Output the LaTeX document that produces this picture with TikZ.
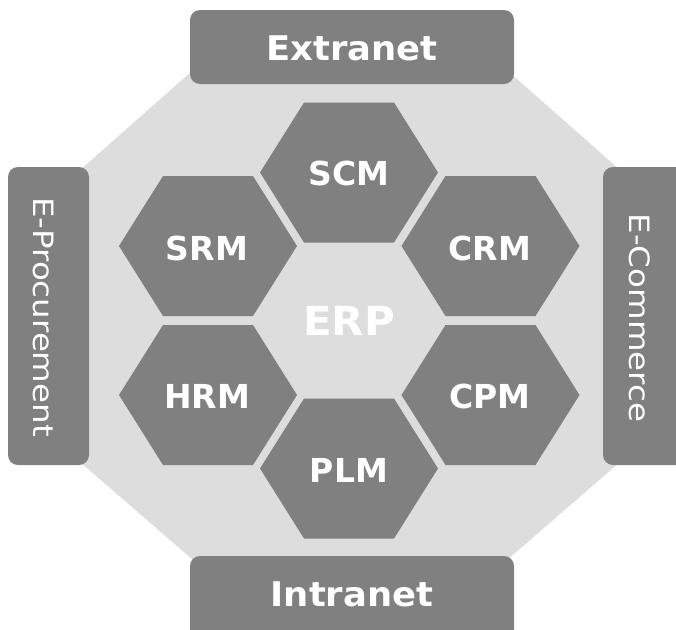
\documentclass[tikz,border=0pt]{standalone}
\usepackage{fontspec}
\setmainfont{DejaVu Sans}
\usepackage{graphicx}
\definecolor{bargray}{HTML}{808080}
\definecolor{bglight}{HTML}{DDDDDD}
\begin{document}
\begin{tikzpicture}[x=1pt,y=-1pt,
  barbox/.style={fill=bargray, rounded corners=10pt},
  hexfill/.style={fill=bargray},
  hexlabel/.style={text=white, font=\fontsize{33}{36}\selectfont\bfseries, inner sep=0pt},
  barlabel/.style={text=white, font=\fontsize{34}{38}\selectfont\bfseries, inner sep=0pt},
  sidelabel/.style={text=white, font=\fontsize{28}{32}\selectfont, inner sep=0pt, rotate=-90},
  erplabel/.style={text=white, font=\fontsize{40}{44}\selectfont\bfseries, inner sep=0pt}]
\useasboundingbox (0,0) rectangle (676,629);
\clip (0,0) rectangle (676,629);
% octagon background
\fill[bglight] (200,64) -- (500,64) -- (620,170) -- (620,462) -- (500,566) -- (200,566) -- (80,462) -- (80,170) -- cycle;
% bars
\fill[barbox] (190,10) rectangle (514,84);
\fill[barbox] (190,556) rectangle (514,640);
\fill[barbox] (8,167) rectangle (89,465);
\fill[barbox] (603,167) rectangle (700,465);
\node[barlabel] (extranet) at (352,48) {\scalebox{1.04}[1]{Extranet}};
\node[barlabel] (intranet) at (352,594) {\scalebox{1.04}[1]{Intranet}};
\node[sidelabel] (eproc) at (44,317) {\scalebox{1.16}[1]{E-Procurement}};
\node[sidelabel] (ecomm) at (640,318) {\scalebox{1.16}[1]{E-Commerce}};
% hexagons
\foreach \cx/\cy in {349/172.5, 208/246, 490.5/246, 208/395, 490.5/395, 349/468.5}{
  \fill[hexfill, shift={(\cx,\cy)}] (-89,0) -- (-45,-70) -- (45,-70) -- (89,0) -- (45,70) -- (-45,70) -- cycle;
}
\node[hexlabel] (scm) at (349,173) {SCM};
\node[hexlabel] (srm) at (207,248) {SRM};
\node[hexlabel] (crm) at (490,248) {CRM};
\node[hexlabel] (hrm) at (207,396) {HRM};
\node[hexlabel] (cpm) at (490,396) {CPM};
\node[hexlabel] (plm) at (349,470) {PLM};
\node[erplabel] (erp) at (349,321) {\scalebox{1.05}[1]{ERP}};
\end{tikzpicture}
\end{document}
